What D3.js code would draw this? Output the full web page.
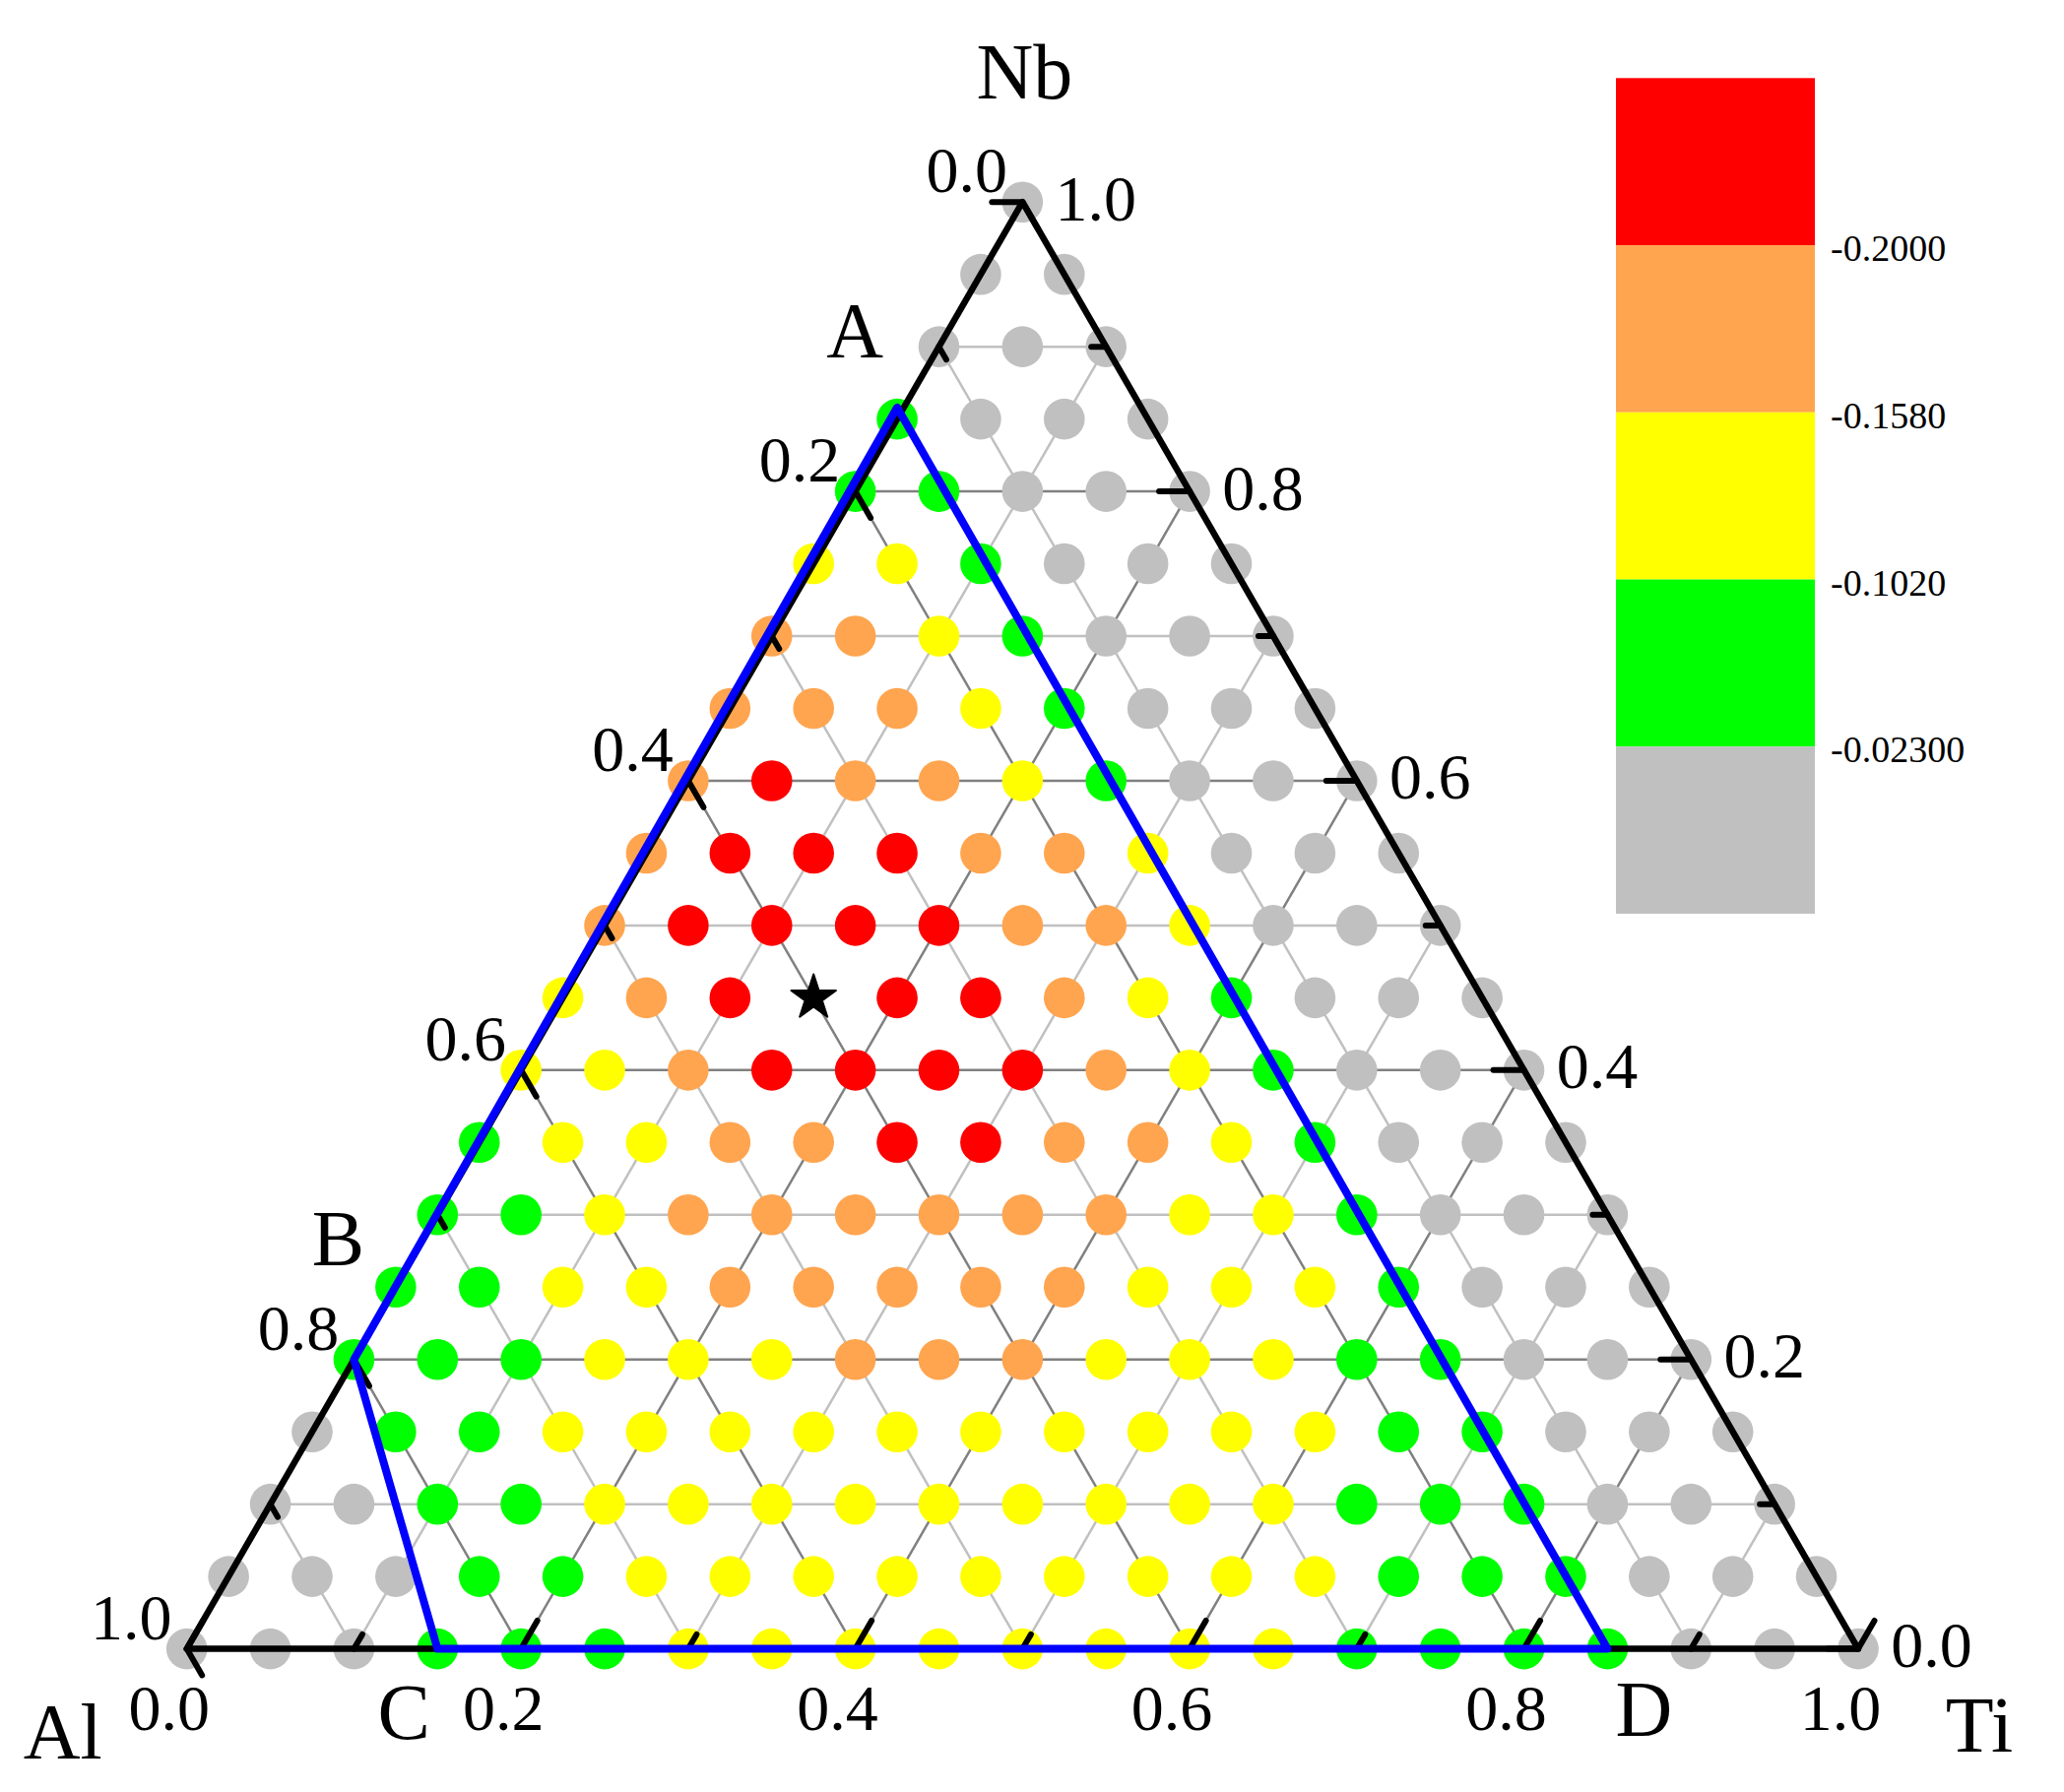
<!DOCTYPE html>
<html>
	<head>
		<meta charset="utf-8" />
		<title>Al-Ti-Nb ternary</title>
		<script src="https://d3js.org/d3.v7.min.js" charset="UTF-8"></script>
		<style>
			body{ margin:0; background:#fff; }
			svg{ display:block; }
			text{ font-family:"Liberation Serif","Times New Roman",serif; fill:#000; }
		</style>
	</head>
	<body>
		<div id="chart"></div>
		<script>
			// one string per row from the Nb corner down, one letter per point, left to right
			// r/o/y/g/a are the legend bands, "-" is the spot taken by the star
			var rows=[
				"a",
				"aa",
				"aaa",
				"gaaa",
				"ggaaa",
				"yygaaa",
				"ooygaaa",
				"oooygaaa",
				"orooygaaa",
				"orrrooyaaa",
				"orrrrooyaaa",
				"yor-rroygaaa",
				"yyorrrroygaaa",
				"gyyoorrooygaaa",
				"ggyooooooyygaaa",
				"ggyyoooooyyygaaa",
				"gggyyyoooyyyggaaa",
				"aggyyyyyyyyyyggaaa",
				"aaggyyyyyyyyygggaaa",
				"aaaggyyyyyyyyygggaaa",
				"aaagggyyyyyyyyggggaaa"
			];
			var bands=["r","o","y","g","a"];
			var bandColors=["#ff0000","#ffa54f","#ffff00","#00ff00","#c0c0c0"];
			var bandLabels=["-0.2000","-0.1580","-0.1020","-0.02300"];
			var step=0.05;
			var tickValues=[0,0.1,0.2,0.3,0.4,0.5,0.6,0.7,0.8,0.9,1];
			var tickLabels=[0,0.2,0.4,0.6,0.8,1];
			var regionNames=["A","B","C","D"];
			var regionTi=[-0.004,0,0.15,0.85];
			var regionNb=[0.858,0.2,0,0];
			var starTi=0.15;
			var starNb=0.45;

			var width=2096;
			var height=1820;
			var svg=d3.select("#chart").append("svg").attr("width",width).attr("height",height);

			var xScale=d3.scaleLinear().domain([0,1]).range([189.7,1887]);
			var yScale=d3.scaleLinear().domain([0,1]).range([1674.6,205.2]);
			var color=d3.scaleOrdinal().domain(bands).range(bandColors);
			function px(ti,nb){ return [xScale(ti+nb/2),yScale(nb)]; }

			// grid, every 0.1 in the three directions, 0.2 multiples darker
			var grid=[];
			tickValues.slice(1,-1).forEach(function(v){
				var k=Math.round(v*10);
				var c=k%2==0?"#808080":"#c0c0c0";
				grid.push({a:px(0,v),b:px(1-v,v),c:c});
				grid.push({a:px(v,0),b:px(v,1-v),c:c});
				grid.push({a:px(1-v,0),b:px(0,1-v),c:c});
			});
			svg.selectAll(".grid").data(grid).enter().append("line").attr("class","grid")
				.attr("x1",function(d){return d.a[0]}).attr("y1",function(d){return d.a[1]})
				.attr("x2",function(d){return d.b[0]}).attr("y2",function(d){return d.b[1]})
				.attr("stroke",function(d){return d.c}).attr("stroke-width",2.5);

			// points
			var points=[];
			rows.forEach(function(row,r){
				row.split("").forEach(function(b,i){
					if(b!="-") points.push({ti:i*step,nb:1-r*step,band:b});
				});
			});
			svg.selectAll(".pt").data(points).enter().append("circle").attr("class","pt")
				.attr("cx",function(d){return px(d.ti,d.nb)[0]})
				.attr("cy",function(d){return px(d.ti,d.nb)[1]})
				.attr("r",20.8)
				.attr("fill",function(d){return color(d.band)});

			// frame
			var line=d3.line();
			svg.append("path").attr("d",line([px(0,0),px(1,0),px(0,1)])+"Z")
				.attr("fill","none").attr("stroke","#000").attr("stroke-width",6.5).attr("stroke-linejoin","round");

			// ticks: left axis runs Nb corner to Al corner, right axis Ti corner to Nb corner, base Al corner to Ti corner
			function tickLen(v){ return Math.round(v*10)%2==0?31:15; }
			var ticks=[];
			tickValues.forEach(function(v){
				var l=tickLen(v);
				var p=px(0,1-v);
				ticks.push([p,[p[0]+l*0.5,p[1]+l*0.866]]);
				p=px(1-v,v);
				ticks.push([p,[p[0]-l,p[1]]]);
				p=px(v,0);
				ticks.push([p,[p[0]+(l+2)*0.5,p[1]-(l+2)*0.866]]);
			});
			svg.selectAll(".tick").data(ticks).enter().append("path").attr("class","tick")
				.attr("d",function(d){return line(d)})
				.attr("stroke","#000").attr("stroke-width",6).attr("stroke-linecap","round");

			// tick labels
			var labelData=[];
			tickLabels.forEach(function(v){
				var s=v.toFixed(1);
				var p=px(0,1-v);
				labelData.push({x:p[0]-56.5,y:p[1]-10,s:s});
				p=px(1-v,v);
				labelData.push({x:p[0]+74.5,y:p[1]+18.5,s:s});
				p=px(v,0);
				labelData.push({x:p[0]-18,y:p[1]+82.5,s:s});
			});
			svg.selectAll(".tl").data(labelData).enter().append("text").attr("class","tl")
				.attr("x",function(d){return d.x}).attr("y",function(d){return d.y})
				.attr("text-anchor","middle").attr("font-size",66)
				.text(function(d){return d.s});

			// blue region
			var region=regionNames.map(function(n,i){ return px(regionTi[i],regionNb[i]); });
			svg.append("path").attr("d",line(region)+"Z")
				.attr("fill","none").attr("stroke","#0000ff").attr("stroke-width",8).attr("stroke-linejoin","round");

			// star
			var star=px(starTi,starNb);
			svg.append("path").attr("d",d3.symbol().type(d3.symbolStar).size(640)())
				.attr("transform","translate("+star[0]+","+star[1]+")")
				.attr("fill","#000").attr("stroke","#000").attr("stroke-width",2).attr("stroke-linejoin","round");

			// corner and region names
			var offsets={A:[-43,-51],B:[-16,-96],C:[-34,91],D:[37,88]};
			var names=regionNames.map(function(n,i){
				return {s:n,x:region[i][0]+offsets[n][0],y:region[i][1]+offsets[n][1]};
			});
			var nb=px(0,1),al=px(0,0),ti=px(1,0);
			names.push({s:"Nb",x:nb[0]+2,y:nb[1]-105.6});
			names.push({s:"Al",x:al[0]-126,y:al[1]+111});
			names.push({s:"Ti",x:ti[0]+123,y:ti[1]+104});
			svg.selectAll(".name").data(names).enter().append("text").attr("class","name")
				.attr("x",function(d){return d.x}).attr("y",function(d){return d.y})
				.attr("text-anchor","middle").attr("font-size",80)
				.text(function(d){return d.s});

			// legend
			var legendY=d3.scaleBand().domain(bands).range([79.3,928]);
			svg.selectAll(".leg").data(bands).enter().append("rect").attr("class","leg")
				.attr("x",1641).attr("width",202)
				.attr("y",function(d){return legendY(d)})
				.attr("height",legendY.bandwidth())
				.attr("fill",function(d){return color(d)});
			svg.selectAll(".legt").data(bandLabels).enter().append("text").attr("class","legt")
				.attr("x",1859)
				.attr("y",function(d,i){return legendY(bands[i])+legendY.bandwidth()+16})
				.attr("font-size",38)
				.text(function(d){return d});
		</script>
	</body>
</html>
